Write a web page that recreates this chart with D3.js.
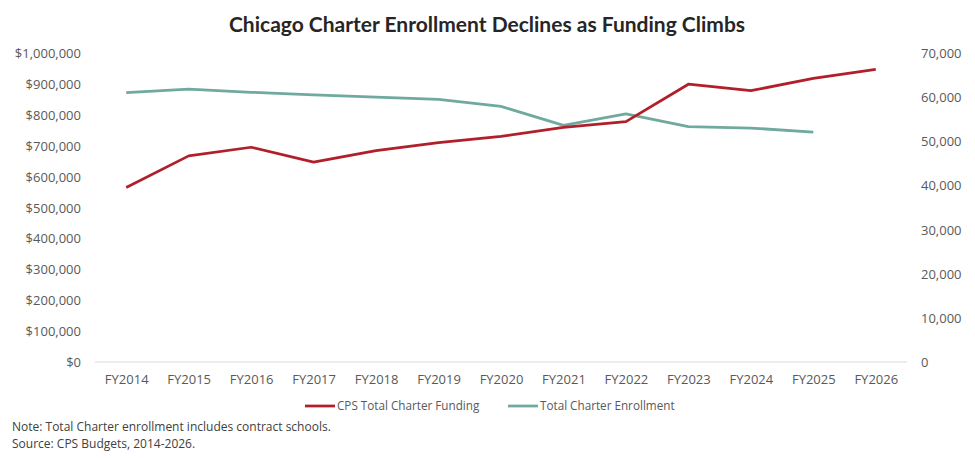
<!DOCTYPE html>
<html>
<head>
<meta charset="utf-8">
<script src="https://cdn.jsdelivr.net/npm/d3@7"></script>
<style>
  body { margin: 0; background: #fff; }
</style>
</head>
<body>
<div class="canvas"></div>
<script>
const years = ['FY2014', 'FY2015', 'FY2016', 'FY2017', 'FY2018', 'FY2019', 'FY2020',
  'FY2021', 'FY2022', 'FY2023', 'FY2024', 'FY2025', 'FY2026'];
// CPS total charter funding (left axis, dollars)
const funding = [565000, 667000, 695000, 647000, 684000, 710000, 730000,
  759000, 778000, 899000, 878000, 918000, 947000];
// total charter enrollment (right axis), no FY2026 value
const enrollment = [61000, 61800, 61100, 60500, 60000, 59500, 57900,
  53600, 56200, 53300, 53000, 52100, null];
const leftTicks = [0, 100000, 200000, 300000, 400000, 500000, 600000, 700000, 800000, 900000, 1000000];
const rightTicks = [0, 10000, 20000, 30000, 40000, 50000, 60000, 70000];
const seriesNames = ['CPS Total Charter Funding', 'Total Charter Enrollment'];
const notes = ['Note: Total Charter enrollment includes contract schools.', 'Source: CPS Budgets, 2014-2026.'];

const svgWidth = 975;
const svgHeight = 458;
const margin = { top: 53, right: 68, bottom: 96, left: 95 };
const chartWidth = svgWidth - margin.left - margin.right;
const chartHeight = svgHeight - margin.top - margin.bottom;
const red = '#b11f2b';
const teal = '#70a99d';
const textColor = '#595959';
const smallFont = '"Open Sans", sans-serif';

const svg = d3.select('.canvas').append('svg')
  .attr('width', svgWidth)
  .attr('height', svgHeight)
  .style('font-family', smallFont);

svg.append('text')
  .attr('x', 487).attr('y', 32)
  .attr('text-anchor', 'middle')
  .attr('font-family', 'Lato, sans-serif')
  .attr('font-weight', 'bold')
  .attr('font-size', '21px')
  .attr('fill', '#262626')
  .text('Chicago Charter Enrollment Declines as Funding Climbs');

const chart = svg.append('g').attr('transform', `translate(${margin.left}, ${margin.top})`);

const xScale = d3.scalePoint().domain(years).range([0, chartWidth]).padding(0.5);
const yLeft = d3.scaleLinear().domain([0, 1000000]).range([chartHeight, 0]);
const yRight = d3.scaleLinear().domain([0, 70000]).range([chartHeight, 0]);

const xAxis = d3.axisBottom(xScale).tickSize(0).tickPadding(13);
const leftAxis = d3.axisLeft(yLeft).tickValues(leftTicks).tickSize(0).tickPadding(14)
  .tickFormat((d) => '$' + d3.format(',')(d));
const rightAxis = d3.axisRight(yRight).tickValues(rightTicks).tickSize(0).tickPadding(14)
  .tickFormat(d3.format(','));

const xAxisGroup = chart.append('g').attr('class', 'x-axis')
  .attr('transform', `translate(0, ${chartHeight})`).call(xAxis);
const leftGroup = chart.append('g').attr('class', 'y-axis').call(leftAxis);
const rightGroup = chart.append('g').attr('class', 'y-axis-right')
  .attr('transform', `translate(${chartWidth}, 0)`).call(rightAxis);

[xAxisGroup, leftGroup, rightGroup].forEach((g) => {
  g.select('.domain').remove();
  g.selectAll('text').attr('fill', textColor).attr('font-size', '13px').attr('font-family', smallFont);
});
leftGroup.selectAll('text').attr('dy', '0.35em');
rightGroup.selectAll('text').attr('dy', '0.35em');

// baseline
chart.append('line')
  .attr('x1', 0).attr('x2', chartWidth)
  .attr('y1', yLeft(0)).attr('y2', yLeft(0))
  .attr('stroke', '#d9d9d9').attr('stroke-width', 1);

const fundLine = d3.line()
  .x((d, i) => xScale(years[i]))
  .y((d) => yLeft(d));
const enrollLine = d3.line()
  .defined((d) => d != null)
  .x((d, i) => xScale(years[i]))
  .y((d) => yRight(d));

chart.append('path').datum(enrollment)
  .attr('d', enrollLine)
  .attr('fill', 'none').attr('stroke', teal).attr('stroke-width', 2.75)
  .attr('stroke-linejoin', 'round');

chart.append('path').datum(funding)
  .attr('d', fundLine)
  .attr('fill', 'none').attr('stroke', red).attr('stroke-width', 2.75)
  .attr('stroke-linejoin', 'round');

// legend
const legend = svg.append('g').attr('transform', 'translate(0, 406)');
const legendItems = [{ name: seriesNames[0], color: red, x: 305 }, { name: seriesNames[1], color: teal, x: 508 }];
legendItems.forEach((item) => {
  legend.append('line')
    .attr('x1', item.x).attr('x2', item.x + 30)
    .attr('y1', 0).attr('y2', 0)
    .attr('stroke', item.color).attr('stroke-width', 2.75);
  legend.append('text')
    .attr('x', item.x + 32).attr('y', 0).attr('dy', '0.35em')
    .attr('fill', textColor).attr('font-size', '11.7px')
    .text(item.name);
});

// notes
notes.forEach((n, i) => {
  svg.append('text')
    .attr('x', 12).attr('y', 431 + i * 17)
    .attr('fill', '#404040').attr('font-size', '12px')
    .text(n);
});
</script>
</body>
</html>
